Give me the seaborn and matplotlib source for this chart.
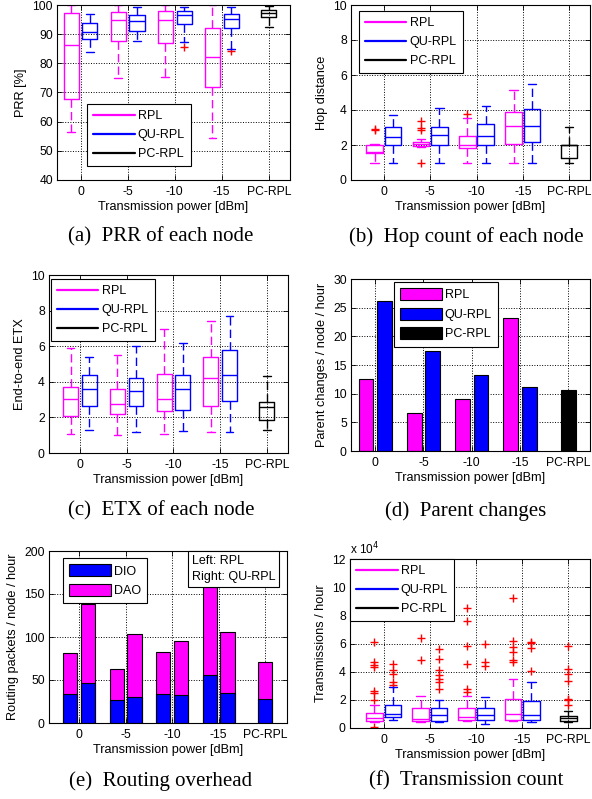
import numpy as np
import pandas as pd
import matplotlib
matplotlib.use("Agg")
import matplotlib.pyplot as plt
from matplotlib.lines import Line2D
from matplotlib.patches import Patch
import seaborn as sns

# categories
tick_labels = ["0", "-5", "-10", "-15", "PC-RPL"]
series = ["RPL", "QU-RPL", "PC-RPL"]

# box stats per power level: (lower whisker, q1, median, q3, upper whisker)
# (a) PRR [%]
prr_rpl = [(56.6, 67.7, 86.3, 97.3, 100.0), (74.9, 87.8, 94.9, 97.7, 100.0),
           (75.2, 86.9, 94.9, 98.1, 100.0), (54.5, 71.8, 82.1, 92.0, 100.0)]
prr_qu = [(84.0, 88.2, 90.9, 93.9, 96.9), (87.8, 91.2, 94.6, 96.7, 99.4),
          (87.4, 93.5, 96.6, 98.1, 99.4), (84.8, 92.0, 95.2, 96.9, 99.2)]
prr_pc = [(92.6, 96.0, 97.4, 98.3, 99.7)]
prr_out_qu = [[], [], [85.6], [84.2]]

# (b) hop distance
hop_rpl = [(1.0, 1.52, 1.6, 2.0, 2.05), (1.9, 1.92, 2.05, 2.19, 2.32),
           (0.95, 1.81, 2.0, 2.51, 3.52), (1.0, 2.06, 3.09, 3.9, 5.14)]
hop_qu = [(1.0, 2.0, 2.48, 3.05, 3.71), (1.0, 2.0, 2.57, 3.05, 4.1),
          (1.0, 2.0, 2.51, 3.18, 4.23), (1.0, 2.19, 3.09, 4.06, 5.49)]
hop_pc = [(1.0, 1.24, 2.0, 2.0, 3.05)]
hop_out_rpl = [[2.88, 2.93], [0.95, 2.88, 2.95, 3.38], [3.78], []]

# (c) end-to-end ETX
etx_rpl = [(1.08, 2.09, 3.03, 3.7, 5.89), (1.03, 2.19, 2.75, 3.6, 5.48),
           (1.08, 2.34, 3.03, 4.45, 6.99), (1.18, 2.62, 4.24, 5.42, 7.44)]
etx_qu = [(1.31, 2.65, 3.6, 4.36, 5.38), (1.18, 2.65, 3.48, 4.24, 6.0),
          (1.23, 2.43, 3.6, 4.39, 6.2), (1.18, 2.9, 4.36, 5.78, 7.7)]
etx_pc = [(1.27, 1.87, 2.56, 2.84, 4.3)]

# (d) parent changes / node / hour
parent_rpl = [12.5, 6.6, 9.1, 23.2]
parent_qu = [26.2, 17.5, 13.2, 11.1]
parent_pc = [10.6]

# (e) routing packets / node / hour
dio_rpl = [34, 27, 34, 56]
dio_qu = [47, 30, 32, 35]
dio_pc = [28]
dao_rpl = [47, 36, 49, 102]
dao_qu = [91, 73, 63, 71]
dao_pc = [43]

# (f) transmissions / hour, in units of 10^4
tx_rpl = [(0.45, 0.5, 0.72, 1.1, 1.6), (0.45, 0.5, 0.65, 1.4, 2.3),
          (0.5, 0.55, 0.8, 1.4, 2.3), (0.5, 0.55, 1.0, 2.05, 3.45)]
tx_qu = [(0.55, 0.75, 1.0, 1.65, 2.9), (0.45, 0.5, 0.9, 1.4, 2.0),
         (0.25, 0.55, 0.9, 1.45, 2.2), (0.45, 0.6, 0.95, 1.9, 3.25)]
tx_pc = [(0.4, 0.5, 0.68, 0.88, 1.2)]
tx_out_rpl = [[0.1, 2.0, 2.5, 2.65, 4.3, 4.5, 4.7, 6.1], [4.8, 6.4],
              [2.55, 2.75, 4.55, 5.8, 7.6, 8.5], [4.7, 4.85, 5.4, 5.75, 6.2, 9.2]]
tx_out_qu = [[3.05, 3.3, 3.8, 4.1, 4.55], [2.8, 3.3, 3.5, 3.75, 4.1, 4.9, 5.6],
             [4.4, 4.7, 5.95], [4.05, 5.7, 6.05, 6.1]]
tx_out_pc = [[1.6, 2.0, 2.05, 3.35, 3.8, 4.2, 5.85]]

colors = {"RPL": "#ff00ff", "QU-RPL": "#0000ff", "PC-RPL": "#000000"}

sns.set_theme(style="white", rc={
    "axes.edgecolor": "black", "axes.linewidth": 0.8,
    "xtick.direction": "in", "ytick.direction": "in",
    "xtick.top": True, "ytick.right": True, "xtick.bottom": True, "ytick.left": True,
    "xtick.major.size": 3.5, "ytick.major.size": 3.5,
    "xtick.major.width": 0.6, "ytick.major.width": 0.6,
    "xtick.color": "black", "ytick.color": "black",
    "axes.labelcolor": "black", "text.color": "black",
    "grid.color": "black", "grid.linestyle": ":", "grid.linewidth": 0.7,
    "xtick.labelsize": 8.7, "ytick.labelsize": 8.7, "axes.labelsize": 9.2,
    "legend.fontsize": 9, "xtick.major.pad": 4.5, "ytick.major.pad": 3,
    "axes.labelpad": 2,
})
plt.rcParams["font.family"] = ["Liberation Sans", "DejaVu Sans"]

W, H = 592, 799
fig = plt.figure(figsize=(W / 100, H / 100), dpi=100)


def px_axes(x0, y0, x1, y1):
    return fig.add_axes([x0 / W, 1 - y1 / H, (x1 - x0) / W, (y1 - y0) / H])


def to_frame(groups, shift):
    rows = []
    for name, vals in groups.items():
        for i, v in enumerate(vals):
            pos = 5 if name == "PC-RPL" else i + 1 + shift[name]
            for x in np.atleast_1d(v):
                rows.append((name, pos, x))
    return pd.DataFrame(rows, columns=["series", "pos", "value"])


box_shift = {"RPL": -0.2, "QU-RPL": 0.2, "PC-RPL": 0}
bar_shift = {"RPL": -0.19, "QU-RPL": 0.19, "PC-RPL": 0}


def box_panel(ax, stats, outliers, width):
    df = to_frame(stats, box_shift)
    sns.boxplot(data=df, x="pos", y="value", hue="series", hue_order=series,
                palette=colors, native_scale=True, dodge=False, whis=(0, 100),
                width=width, fill=False, saturation=1, linewidth=1,
                showfliers=False, legend=False, ax=ax,
                whiskerprops={"linestyle": (0, (6, 3))})
    out = to_frame(outliers, box_shift)
    if len(out):
        sns.scatterplot(data=out, x="pos", y="value", marker="+", color="red",
                        s=40, linewidth=1, legend=False, ax=ax)


def style(ax, xlim, ylim, yticks, ylabel):
    ax.set_xlim(xlim)
    ax.set_ylim(ylim)
    ax.set_xticks(range(1, 6), tick_labels)
    ax.set_yticks(yticks)
    ax.set_xlabel("Transmission power [dBm]")
    ax.set_ylabel(ylabel, labelpad=4)
    ax.grid(True)


def legend(ax, x, y, patches=False, names=series, cols=None):
    cols = cols or [colors[s] for s in names]
    if patches:
        handles = [Patch(facecolor=c, edgecolor="black", lw=0.8) for c in cols]
    else:
        handles = [Line2D([], [], color=c, lw=1.6) for c in cols]
    leg = ax.legend(handles, names, loc="upper left", bbox_to_anchor=(x, y),
                    frameon=True, fancybox=False, edgecolor="black", framealpha=1,
                    borderpad=0.5, labelspacing=0.5 if patches else 0.55,
                    handlelength=3.3, handleheight=1.1 if patches else 0.7,
                    handletextpad=0.25, borderaxespad=0)
    leg.get_frame().set_linewidth(0.8)


# (a)
ax = px_axes(57, 5, 290, 180)
box_panel(ax, {"RPL": prr_rpl, "QU-RPL": prr_qu, "PC-RPL": prr_pc},
          {"QU-RPL": prr_out_qu}, 0.8)
style(ax, (0.5, 5.45), (40, 100), range(40, 101, 10), "PRR [%]")
legend(ax, 0.129, 0.434)

# (b)
ax = px_axes(351, 5, 590, 180)
box_panel(ax, {"RPL": hop_rpl, "QU-RPL": hop_qu, "PC-RPL": hop_pc},
          {"RPL": hop_out_rpl}, 0.9)
style(ax, (0.29, 5.45), (0, 10), range(0, 11, 2), "Hop distance")
legend(ax, 0.033, 0.966)

# (c)
ax = px_axes(49, 275, 288, 453)
box_panel(ax, {"RPL": etx_rpl, "QU-RPL": etx_qu, "PC-RPL": etx_pc}, {}, 0.8)
style(ax, (0.34, 5.45), (0, 10), range(0, 11, 2), "End-to-end ETX")
legend(ax, 0.008, 0.978)

# (d)
ax = px_axes(351, 279, 590, 451)
df = to_frame({"RPL": parent_rpl, "QU-RPL": parent_qu, "PC-RPL": parent_pc}, bar_shift)
sns.barplot(data=df, x="pos", y="value", hue="series", hue_order=series,
            palette=colors, native_scale=True, dodge=False, width=0.8,
            saturation=1, edgecolor="black", linewidth=0.8, errorbar=None,
            legend=False, ax=ax)
style(ax, (0.5, 5.45), (0, 30), range(0, 31, 5), "Parent changes / node / hour")
legend(ax, 0.18, 0.983, patches=True)

# (e)
ax = px_axes(49, 551, 287, 723)
dio = to_frame({"RPL": dio_rpl, "QU-RPL": dio_qu, "PC-RPL": dio_pc}, bar_shift)
dao = to_frame({"RPL": dao_rpl, "QU-RPL": dao_qu, "PC-RPL": dao_pc}, bar_shift)
total = dio.assign(value=dio["value"] + dao["value"])
for frame, col in [(total, "#ff00ff"), (dio, "#0000ff")]:
    sns.barplot(data=frame, x="pos", y="value", color=col, native_scale=True,
                width=0.8, saturation=1, edgecolor="black", linewidth=0.8,
                errorbar=None, ax=ax)
style(ax, (0.35, 5.47), (0, 200), range(0, 201, 50), "Routing packets / node / hour")
legend(ax, 0.059, 0.959, patches=True, names=["DIO", "DAO"], cols=["#0000ff", "#ff00ff"])
ax.text(0.601, 0.977, "Left: RPL\nRight: QU-RPL", transform=ax.transAxes,
        ha="left", va="top", fontsize=9, linespacing=1.45,
        bbox=dict(boxstyle="square,pad=0.3", fc="white", ec="black", lw=0.8))

# (f)
ax = px_axes(350, 559, 590, 728)
box_panel(ax, {"RPL": tx_rpl, "QU-RPL": tx_qu, "PC-RPL": tx_pc},
          {"RPL": tx_out_rpl, "QU-RPL": tx_out_qu, "PC-RPL": tx_out_pc}, 0.9)
style(ax, (0.27, 5.47), (0, 12), range(0, 13, 2), "Transmissions / hour")
legend(ax, 0.0, 1.0)
ax.text(0.0, 1.01, r"x 10$^4$", transform=ax.transAxes, ha="left", va="bottom",
        fontsize=8.5)

# sub-figure captions
captions = ["(a)  PRR of each node", "(b)  Hop count of each node",
            "(c)  ETX of each node", "(d)  Parent changes",
            "(e)  Routing overhead", "(f)  Transmission count"]
for k, text in enumerate(captions):
    cx = 161 if k % 2 == 0 else 466
    cy = [237, 511, 781][k // 2]
    fig.text(cx / W, 1 - cy / H, text, ha="center", va="center",
             family=["Liberation Serif", "DejaVu Serif"], fontsize=15)

fig.savefig("out.png", dpi=100)
